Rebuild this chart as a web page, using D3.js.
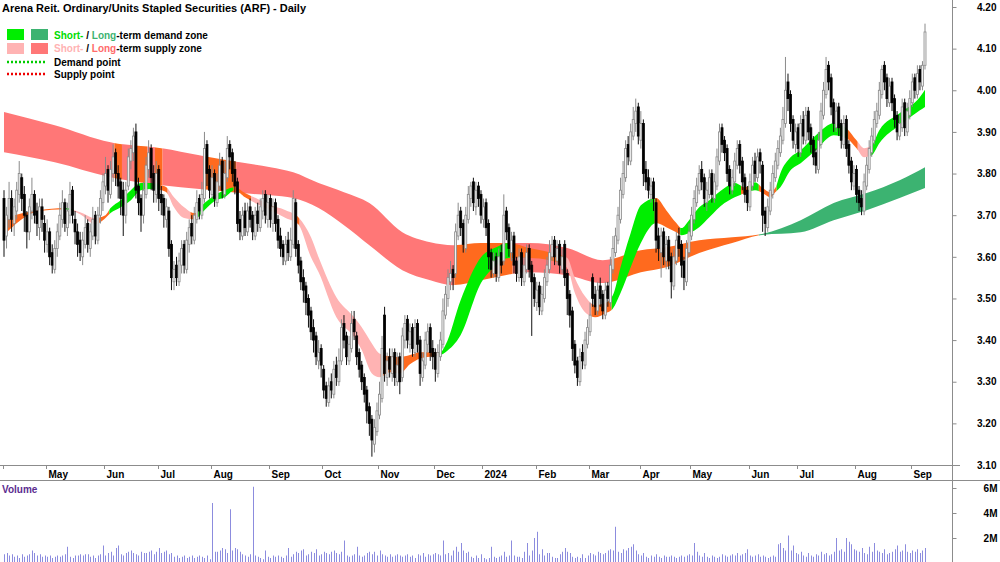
<!DOCTYPE html>
<html>
<head>
<meta charset="utf-8">
<script src="https://cdn.jsdelivr.net/npm/d3@7"></script>
<style>
body { margin: 0; background: #fff; }
svg { display: block; font-family: Arial, "Liberation Sans", sans-serif; font-weight: bold; }
</style>
</head>
<body>
<script>
// daily candles, index 0 = first trading day of Apr 2023
var opens = [3.74,3.65,3.69,3.74,3.68,3.71,3.75,3.79,3.75,3.70,
 3.66,3.71,3.75,3.71,3.67,3.72,3.68,3.63,3.66,3.61,
 3.57,3.62,3.65,3.69,3.73,3.67,3.70,3.76,3.69,3.66,
 3.64,3.60,3.63,3.68,3.62,3.65,3.70,3.64,3.70,3.73,
 3.77,3.81,3.75,3.80,3.85,3.80,3.78,3.76,3.70,3.77,
 3.83,3.85,3.90,3.77,3.74,3.70,3.75,3.81,3.86,3.80,
 3.75,3.81,3.75,3.74,3.69,3.71,3.63,3.54,3.58,3.54,
 3.58,3.63,3.57,3.63,3.68,3.64,3.69,3.74,3.70,3.74,
 3.87,3.81,3.75,3.80,3.73,3.77,3.83,3.75,3.79,3.87,
 3.85,3.81,3.78,3.69,3.65,3.71,3.66,3.72,3.70,3.65,
 3.71,3.67,3.71,3.75,3.69,3.74,3.68,3.73,3.69,3.65,
 3.63,3.59,3.64,3.60,3.63,3.73,3.63,3.59,3.55,3.53,
 3.50,3.47,3.43,3.41,3.35,3.38,3.33,3.29,3.25,3.30,
 3.27,3.34,3.30,3.35,3.44,3.41,3.35,3.38,3.45,3.41,
 3.37,3.34,3.31,3.28,3.24,3.21,3.15,3.18,3.22,3.26,
 3.46,3.31,3.36,3.32,3.37,3.30,3.36,3.31,3.40,3.45,
 3.39,3.43,3.37,3.44,3.40,3.31,3.34,3.39,3.43,3.38,
 3.37,3.32,3.36,3.39,3.46,3.50,3.54,3.57,3.56,3.65,
 3.71,3.68,3.62,3.69,3.74,3.78,3.72,3.77,3.75,3.69,
 3.73,3.68,3.61,3.56,3.60,3.55,3.61,3.59,3.71,3.67,
 3.61,3.65,3.59,3.55,3.61,3.54,3.57,3.62,3.58,3.55,
 3.49,3.53,3.47,3.50,3.54,3.57,3.60,3.64,3.59,3.63,
 3.57,3.63,3.56,3.51,3.47,3.39,3.35,3.30,3.37,3.34,
 3.39,3.42,3.55,3.51,3.47,3.53,3.51,3.46,3.53,3.49,
 3.57,3.61,3.64,3.69,3.75,3.79,3.87,3.83,3.89,3.92,
 3.96,3.88,3.92,3.81,3.79,3.75,3.78,3.73,3.65,3.61,
 3.66,3.59,3.64,3.60,3.53,3.59,3.65,3.63,3.59,3.54,
 3.61,3.65,3.69,3.73,3.76,3.81,3.79,3.73,3.75,3.80,
 3.74,3.77,3.83,3.91,3.88,3.86,3.81,3.76,3.78,3.82,
 3.87,3.83,3.79,3.76,3.72,3.77,3.83,3.79,3.85,3.82,
 3.71,3.67,3.71,3.75,3.79,3.82,3.85,3.88,3.92,4.02,
 3.99,3.93,3.87,3.91,3.85,3.93,3.88,3.95,3.91,3.88,
 3.85,3.81,3.87,3.94,3.99,4.06,4.03,3.97,3.91,3.96,
 3.92,3.87,3.93,3.87,3.83,3.77,3.81,3.76,3.74,3.71,
 3.77,3.81,3.85,3.88,3.92,3.94,3.99,4.06,4.03,3.97,
 4.02,3.98,3.94,3.89,3.91,3.97,3.90,3.94,3.97,4.03,
 3.99,4.05,4.01,4.06];

var highs = [3.76,3.72,3.78,3.76,3.74,3.78,3.83,3.80,3.77,3.71,
 3.74,3.79,3.76,3.73,3.74,3.74,3.70,3.69,3.67,3.63,
 3.64,3.68,3.73,3.76,3.74,3.73,3.78,3.77,3.71,3.68,
 3.66,3.66,3.70,3.69,3.68,3.72,3.71,3.72,3.76,3.80,
 3.84,3.82,3.83,3.87,3.86,3.82,3.79,3.78,3.78,3.86,
 3.88,3.91,3.92,3.79,3.75,3.78,3.84,3.88,3.87,3.82,
 3.83,3.82,3.77,3.75,3.74,3.72,3.64,3.59,3.60,3.61,
 3.64,3.64,3.66,3.69,3.70,3.72,3.76,3.75,3.78,3.90,
 3.88,3.82,3.82,3.81,3.80,3.85,3.84,3.83,3.89,3.88,
 3.86,3.83,3.79,3.71,3.72,3.73,3.73,3.74,3.71,3.72,
 3.73,3.74,3.76,3.76,3.75,3.75,3.74,3.74,3.70,3.67,
 3.64,3.65,3.66,3.67,3.76,3.74,3.64,3.60,3.57,3.54,
 3.51,3.48,3.45,3.42,3.40,3.39,3.34,3.30,3.31,3.32,
 3.35,3.36,3.38,3.45,3.46,3.42,3.41,3.47,3.47,3.42,
 3.38,3.35,3.32,3.29,3.25,3.22,3.21,3.25,3.30,3.41,
 3.48,3.37,3.38,3.38,3.38,3.37,3.37,3.43,3.46,3.46,
 3.44,3.44,3.45,3.45,3.41,3.37,3.42,3.44,3.44,3.40,
 3.38,3.39,3.42,3.50,3.53,3.57,3.59,3.58,3.68,3.73,
 3.72,3.69,3.72,3.77,3.78,3.79,3.78,3.78,3.76,3.74,
 3.74,3.69,3.62,3.61,3.61,3.62,3.63,3.75,3.72,3.68,
 3.66,3.66,3.60,3.62,3.62,3.60,3.63,3.63,3.59,3.56,
 3.54,3.54,3.53,3.57,3.60,3.64,3.65,3.65,3.64,3.64,
 3.62,3.64,3.57,3.52,3.48,3.40,3.36,3.38,3.39,3.42,
 3.45,3.49,3.56,3.53,3.54,3.55,3.52,3.54,3.54,3.60,
 3.65,3.67,3.72,3.79,3.83,3.88,3.89,3.92,3.96,3.98,
 3.97,3.95,3.93,3.83,3.81,3.79,3.79,3.74,3.67,3.67,
 3.67,3.65,3.65,3.61,3.62,3.66,3.67,3.64,3.60,3.64,
 3.68,3.72,3.76,3.79,3.82,3.83,3.80,3.78,3.81,3.81,
 3.80,3.86,3.92,3.92,3.89,3.87,3.82,3.81,3.85,3.88,
 3.88,3.84,3.80,3.77,3.80,3.84,3.85,3.86,3.86,3.83,
 3.72,3.74,3.78,3.82,3.85,3.88,3.91,3.96,4.08,4.04,
 4.00,3.94,3.92,3.92,3.94,3.95,3.96,3.96,3.92,3.89,
 3.86,3.90,3.97,4.02,4.08,4.07,4.04,3.98,3.97,3.97,
 3.93,3.94,3.94,3.88,3.84,3.82,3.82,3.77,3.76,3.80,
 3.84,3.88,3.91,3.95,3.97,4.02,4.06,4.07,4.04,4.03,
 4.03,3.99,3.95,3.94,3.98,3.98,3.97,4.00,4.04,4.04,
 4.06,4.06,4.07,4.16];

var lows = [3.60,3.62,3.67,3.66,3.65,3.69,3.73,3.71,3.66,3.62,
 3.64,3.69,3.68,3.65,3.64,3.66,3.61,3.61,3.58,3.56,
 3.56,3.60,3.64,3.67,3.66,3.65,3.68,3.68,3.63,3.60,
 3.59,3.58,3.62,3.61,3.60,3.64,3.63,3.63,3.68,3.71,
 3.75,3.73,3.74,3.78,3.77,3.74,3.70,3.65,3.68,3.76,
 3.81,3.83,3.74,3.70,3.66,3.68,3.74,3.79,3.76,3.73,
 3.73,3.71,3.70,3.67,3.67,3.60,3.52,3.52,3.53,3.53,
 3.56,3.56,3.56,3.61,3.63,3.63,3.68,3.69,3.69,3.73,
 3.77,3.74,3.74,3.72,3.72,3.76,3.74,3.74,3.78,3.81,
 3.78,3.75,3.66,3.64,3.64,3.65,3.65,3.67,3.64,3.64,
 3.66,3.66,3.69,3.68,3.67,3.67,3.66,3.66,3.62,3.60,
 3.58,3.58,3.59,3.59,3.62,3.60,3.56,3.52,3.49,3.46,
 3.43,3.40,3.37,3.34,3.33,3.31,3.26,3.24,3.24,3.26,
 3.26,3.29,3.29,3.34,3.38,3.34,3.34,3.37,3.40,3.34,
 3.31,3.28,3.25,3.20,3.17,3.12,3.13,3.17,3.21,3.25,
 3.30,3.29,3.31,3.30,3.29,3.29,3.27,3.30,3.38,3.38,
 3.37,3.36,3.36,3.37,3.29,3.30,3.33,3.37,3.35,3.33,
 3.30,3.31,3.35,3.38,3.45,3.48,3.52,3.52,3.55,3.64,
 3.65,3.61,3.61,3.68,3.72,3.71,3.70,3.72,3.68,3.67,
 3.65,3.57,3.55,3.55,3.54,3.54,3.56,3.58,3.64,3.60,
 3.59,3.56,3.54,3.54,3.53,3.53,3.56,3.55,3.41,3.48,
 3.47,3.46,3.46,3.49,3.53,3.56,3.59,3.58,3.58,3.56,
 3.56,3.53,3.46,3.43,3.35,3.32,3.29,3.29,3.33,3.33,
 3.38,3.41,3.48,3.46,3.46,3.48,3.45,3.45,3.48,3.48,
 3.56,3.60,3.63,3.68,3.74,3.78,3.82,3.82,3.88,3.90,
 3.87,3.86,3.77,3.76,3.74,3.73,3.71,3.61,3.59,3.55,
 3.58,3.57,3.57,3.50,3.52,3.58,3.60,3.55,3.52,3.53,
 3.60,3.64,3.68,3.72,3.75,3.76,3.72,3.71,3.74,3.73,
 3.73,3.76,3.82,3.85,3.83,3.78,3.75,3.75,3.77,3.81,
 3.80,3.76,3.73,3.71,3.71,3.76,3.78,3.78,3.80,3.66,
 3.65,3.66,3.70,3.74,3.78,3.81,3.84,3.87,3.91,3.95,
 3.90,3.86,3.85,3.84,3.84,3.87,3.87,3.88,3.85,3.82,
 3.80,3.80,3.86,3.93,3.98,4.00,3.94,3.90,3.90,3.89,
 3.86,3.86,3.84,3.80,3.76,3.76,3.73,3.71,3.70,3.70,
 3.76,3.80,3.84,3.87,3.91,3.93,3.98,4.00,3.96,3.96,
 3.95,3.91,3.88,3.88,3.90,3.89,3.89,3.93,3.96,3.98,
 3.98,4.00,4.00,4.05];

var closes = [3.64,3.70,3.74,3.69,3.72,3.76,3.80,3.74,3.70,3.66,
 3.72,3.75,3.70,3.68,3.72,3.69,3.64,3.66,3.60,3.58,
 3.62,3.66,3.70,3.73,3.68,3.71,3.75,3.70,3.66,3.63,
 3.61,3.64,3.67,3.63,3.66,3.69,3.65,3.70,3.74,3.78,
 3.80,3.76,3.81,3.84,3.80,3.77,3.74,3.70,3.76,3.84,
 3.86,3.89,3.76,3.73,3.70,3.76,3.82,3.85,3.79,3.76,
 3.80,3.74,3.73,3.70,3.72,3.62,3.55,3.57,3.55,3.59,
 3.62,3.58,3.64,3.67,3.65,3.70,3.73,3.71,3.75,3.86,
 3.80,3.76,3.79,3.74,3.78,3.82,3.76,3.80,3.86,3.84,
 3.80,3.77,3.68,3.66,3.70,3.67,3.71,3.69,3.66,3.70,
 3.68,3.72,3.74,3.70,3.73,3.69,3.72,3.68,3.64,3.62,
 3.60,3.63,3.61,3.64,3.74,3.62,3.58,3.54,3.52,3.49,
 3.46,3.42,3.40,3.36,3.37,3.34,3.28,3.26,3.29,3.28,
 3.33,3.31,3.35,3.43,3.40,3.36,3.39,3.44,3.42,3.36,
 3.33,3.30,3.27,3.23,3.20,3.16,3.19,3.23,3.27,3.38,
 3.32,3.35,3.33,3.36,3.31,3.34,3.30,3.41,3.44,3.40,
 3.42,3.38,3.43,3.39,3.32,3.35,3.40,3.42,3.37,3.36,
 3.33,3.37,3.40,3.47,3.51,3.55,3.56,3.55,3.66,3.70,
 3.67,3.63,3.70,3.75,3.77,3.73,3.76,3.74,3.70,3.72,
 3.67,3.60,3.57,3.59,3.56,3.60,3.58,3.70,3.66,3.62,
 3.64,3.58,3.56,3.60,3.55,3.58,3.61,3.57,3.54,3.50,
 3.52,3.48,3.51,3.55,3.58,3.61,3.63,3.60,3.62,3.58,
 3.60,3.55,3.50,3.46,3.38,3.34,3.31,3.36,3.35,3.40,
 3.43,3.46,3.50,3.48,3.52,3.50,3.47,3.52,3.50,3.58,
 3.62,3.65,3.70,3.76,3.80,3.86,3.84,3.90,3.93,3.95,
 3.89,3.92,3.80,3.78,3.76,3.77,3.74,3.64,3.62,3.65,
 3.60,3.63,3.59,3.54,3.60,3.64,3.62,3.58,3.55,3.62,
 3.66,3.70,3.74,3.77,3.80,3.78,3.74,3.76,3.79,3.75,
 3.78,3.84,3.90,3.87,3.85,3.80,3.77,3.79,3.83,3.86,
 3.82,3.78,3.75,3.73,3.78,3.82,3.80,3.84,3.83,3.70,
 3.68,3.72,3.76,3.80,3.83,3.86,3.89,3.93,4.00,3.98,
 3.92,3.88,3.90,3.86,3.92,3.89,3.94,3.90,3.87,3.84,
 3.82,3.88,3.95,4.00,4.05,4.02,3.96,3.92,3.95,3.91,
 3.88,3.92,3.86,3.82,3.78,3.80,3.75,3.73,3.72,3.78,
 3.82,3.86,3.89,3.93,3.95,4.00,4.05,4.02,3.98,4.01,
 3.97,3.93,3.90,3.92,3.96,3.91,3.95,3.98,4.02,4.00,
 4.04,4.02,4.06,4.14];

// volume in millions
var volumes = [0.7,0.8,0.6,0.7,0.5,0.6,0.4,0.7,0.5,0.6,0.7,1.0,0.8,0.6,0.7,0.5,0.6,
 0.5,0.6,0.4,0.5,0.6,0.5,0.6,0.7,1.3,0.5,0.4,0.6,0.6,0.7,0.6,0.7,0.7,0.5,0.6,0.4,0.6,0.7,1.4,
 0.6,0.8,0.9,0.6,1.2,1.4,0.7,0.6,0.8,0.9,1.0,0.8,0.7,0.6,0.9,0.8,0.8,0.9,1.0,0.7,0.9,
 1.2,0.8,0.9,1.0,0.7,0.8,0.5,0.6,0.4,0.5,0.6,0.4,0.5,0.6,0.4,0.5,0.6,0.5,0.4,0.6,0.3,
 4.8,0.9,0.9,1.0,1.2,1.1,0.8,4.3,1.0,1.2,1.1,0.9,0.7,0.6,0.5,0.7,6.1,0.6,0.5,0.4,0.3,1.0,0.5,
 0.4,0.6,0.5,0.6,0.5,0.4,0.6,1.2,0.5,0.7,0.9,0.8,1.0,1.1,0.6,0.7,0.9,0.8,1.1,0.6,0.7,
 0.9,0.8,0.7,0.9,1.0,0.8,0.7,0.9,1.8,0.6,0.5,0.6,0.7,1.3,0.6,0.5,0.6,0.8,0.9,0.7,0.9,0.6,
 1.0,0.7,0.6,0.5,0.7,0.5,0.6,0.7,0.6,0.5,0.6,0.7,0.5,0.6,0.4,0.7,0.6,0.8,0.5,0.7,0.6,0.7,
 0.8,0.7,0.6,1.8,0.7,0.8,0.6,1.0,1.3,0.9,1.6,1.0,0.8,0.9,0.5,0.4,0.6,0.4,0.7,
 0.4,0.3,0.4,1.3,0.5,0.4,0.5,0.6,0.9,0.5,0.6,1.8,0.6,0.5,0.5,0.4,0.9,1.6,0.6,1.0,2.0,2.5,
 0.7,1.1,0.6,0.8,0.8,0.5,0.4,0.4,0.7,0.9,1.2,0.9,0.8,0.5,0.4,0.5,0.4,0.7,0.4,0.6,
 0.8,0.7,0.6,0.9,0.8,0.7,0.8,1.0,1.1,1.0,2.9,0.9,0.8,1.1,1.0,1.2,1.3,1.5,1.0,0.7,
 0.6,0.8,0.5,0.4,0.6,0.5,0.7,0.5,0.4,0.6,0.5,0.5,0.6,0.5,0.4,0.5,0.6,0.5,0.6,0.7,
 0.6,1.6,0.9,0.6,0.5,0.8,0.5,0.4,0.6,0.5,0.4,0.5,0.7,0.6,0.5,0.6,0.7,0.6,0.8,0.6,
 0.7,0.8,1.1,0.6,0.5,0.6,0.7,0.5,0.6,0.5,0.4,0.5,0.6,0.5,1.5,1.6,1.2,1.0,2.2,1.0,1.4,0.8,
 0.7,0.9,0.6,0.5,0.8,0.6,0.5,0.7,0.6,0.9,0.7,0.8,0.6,0.7,0.9,2.0,1.0,1.1,0.9,2.0,1.7,1.5,1.1,
 1.0,0.9,1.2,0.8,0.7,1.3,0.9,1.6,1.0,0.9,0.8,1.1,0.7,0.8,0.9,1.1,1.4,0.9,1.0,1.5,0.9,0.8,1.0,0.9,1.1,0.8,1.0,1.2];

// long-term zone (knots: day index, upper, lower)
var ltIdx = [0,20,42,62,77,93,105,114,124,134,144,157,168,177,188,207,222,236,251,261,274,287,298,314,327,340,353,363];
var ltHi  = [3.948,3.916,3.875,3.861,3.844,3.827,3.815,3.803,3.777,3.755,3.729,3.659,3.635,3.628,3.633,3.633,3.621,3.592,3.616,3.623,3.640,3.647,3.654,3.688,3.729,3.753,3.784,3.815];
var ltLo  = [3.851,3.827,3.791,3.772,3.763,3.753,3.748,3.741,3.717,3.676,3.628,3.568,3.544,3.532,3.544,3.563,3.556,3.537,3.563,3.575,3.609,3.633,3.652,3.659,3.688,3.712,3.741,3.765];
var ltSegStart = [0,44,47,52,57,60,63,79,92,178,201,240,298];
var ltSegZone  = ["supply","mixed","supply","mixed","supply","mixed","supply","mixed","supply","mixed","supply","mixed","demand"];

// short-term zone
var stIdx = [0,9,14,24,30,36,40,42,46,50,54,58,62,64,67,71,75,79,83,87,91,95,100,105,111,116,121,124,131,138,141,145,148,152,156,160,164,172,174,180,188,194,199,207,215,222,225,229,233,237,240,243,247,251,257,261,265,267,270,274,278,284,288,292,296,299,302,304,306,310,314,320,327,332,336,339,342,345,353,361,363];
var stHi = [3.693,3.707,3.712,3.717,3.707,3.693,3.700,3.717,3.736,3.760,3.777,3.777,3.772,3.767,3.743,3.719,3.705,3.729,3.748,3.760,3.767,3.753,3.739,3.724,3.712,3.695,3.647,3.599,3.503,3.455,3.431,3.392,3.368,3.361,3.359,3.364,3.371,3.371,3.388,3.496,3.599,3.623,3.633,3.621,3.611,3.597,3.549,3.505,3.484,3.489,3.508,3.575,3.657,3.724,3.741,3.712,3.681,3.669,3.688,3.719,3.736,3.765,3.777,3.767,3.779,3.765,3.755,3.765,3.801,3.839,3.856,3.892,3.921,3.909,3.880,3.861,3.868,3.904,3.945,3.984,4.001];
var stLo = [3.652,3.698,3.710,3.714,3.702,3.678,3.693,3.705,3.719,3.736,3.760,3.763,3.760,3.755,3.719,3.693,3.690,3.712,3.734,3.743,3.760,3.743,3.726,3.712,3.693,3.678,3.599,3.563,3.455,3.407,3.376,3.320,3.311,3.323,3.320,3.342,3.356,3.364,3.371,3.412,3.537,3.580,3.597,3.597,3.592,3.573,3.513,3.467,3.455,3.464,3.476,3.513,3.575,3.633,3.681,3.671,3.659,3.652,3.657,3.671,3.695,3.729,3.743,3.753,3.760,3.753,3.743,3.755,3.767,3.808,3.825,3.856,3.892,3.885,3.861,3.839,3.844,3.873,3.916,3.952,3.960];
var stSegStart = [0,24,28,38,42,62,65,74,77,91,98,103,108,116,117,149,172,200,222,232,240,257,267,291,294,298,305,333,337,342];
var stSegZone  = ["mixed","demand","supply","mixed","demand","mixed","supply","mixed","demand","mixed","supply","mixed","supply","mixed","supply","mixed","demand","mixed","supply","mixed","demand","mixed","demand","mixed","demand","mixed","demand","mixed","supply","demand"];

var priceTicks = [3.10,3.20,3.30,3.40,3.50,3.60,3.70,3.80,3.90,4.00,4.10,4.20];
var volTicks = [2,4,6];
var monthIdx = [0,17,40,61,82,105,126,148,170,189,210,231,251,271,294,313,336,358];
var monthLbl = ["","May","Jun","Jul","Aug","Sep","Oct","Nov","Dec","2024","Feb","Mar","Apr","May","Jun","Jul","Aug","Sep"];

var ltColor = {supply: "#ff7777", mixed: "#ff6a1e", demand: "#3cb371"};
var stColor = {supply: "#ffb3b3", mixed: "#ff6a1e", demand: "#00ee00"};

var W = 1000, H = 562, axisX = 952, priceBottom = 465;

var svg = d3.select("body").append("svg")
    .attr("width", W)
    .attr("height", H);

var xScale = d3.scaleLinear().domain([0, 363]).range([4, 925]);
var yScale = d3.scaleLinear().domain([3.10, 4.20]).range([priceBottom, 7]);
var vScale = d3.scaleLinear().domain([0, 6]).range([563, 488]);

var defs = svg.append("defs");
defs.append("clipPath").attr("id", "plot")
  .append("rect").attr("x", 0).attr("y", 0).attr("width", axisX).attr("height", priceBottom);

var plot = svg.append("g").attr("clip-path", "url(#plot)");

function drawZone(idx, hi, lo, segStart, segZone, colors, name) {
    var pts = idx.map(function (d, k) { return {i: d, hi: hi[k], lo: lo[k]}; });
    var area = d3.area()
        .x(function (d) { return xScale(d.i); })
        .y0(function (d) { return yScale(d.lo); })
        .y1(function (d) { return yScale(d.hi); })
        .curve(d3.curveMonotoneX);
    var pathD = area(pts);
    segStart.forEach(function (s, k) {
        var e = k < segStart.length - 1 ? segStart[k + 1] : closes.length;
        var id = name + k;
        var x0 = xScale(s - 0.5), x1 = xScale(e - 0.5);
        defs.append("clipPath").attr("id", id)
          .append("rect").attr("x", x0).attr("y", 0).attr("width", x1 - x0).attr("height", priceBottom);
        plot.append("path")
            .attr("d", pathD)
            .attr("fill", colors[segZone[k]])
            .attr("clip-path", "url(#" + id + ")");
    });
}

drawZone(ltIdx, ltHi, ltLo, ltSegStart, ltSegZone, ltColor, "lt");
drawZone(stIdx, stHi, stLo, stSegStart, stSegZone, stColor, "st");

// candles
var candles = closes.map(function (c, i) {
    return {i: i, o: opens[i], h: highs[i], l: lows[i], c: c, up: c >= opens[i]};
});

plot.selectAll("line.wick")
    .data(candles)
    .enter()
    .append("line")
        .attr("class", "wick")
        .attr("x1", function (d) { return xScale(d.i); })
        .attr("x2", function (d) { return xScale(d.i); })
        .attr("y1", function (d) { return yScale(d.h); })
        .attr("y2", function (d) { return yScale(d.l); })
        .attr("stroke", function (d) { return d.up ? "#8a8a8a" : "#111"; })
        .attr("stroke-width", 1);

plot.selectAll("rect.body")
    .data(candles)
    .enter()
    .append("rect")
        .attr("class", "body")
        .attr("x", function (d) { return xScale(d.i) - 1; })
        .attr("width", 2)
        .attr("y", function (d) { return yScale(Math.max(d.o, d.c)); })
        .attr("height", function (d) { return Math.max(1, Math.abs(yScale(d.o) - yScale(d.c))); })
        .attr("fill", function (d) { return d.up ? "#f2f2f2" : "#000"; })
        .attr("stroke", function (d) { return d.up ? "#8a8a8a" : "#000"; })
        .attr("stroke-width", 0.8);

// volume
svg.append("g").selectAll("line")
    .data(volumes)
    .enter()
    .append("line")
        .attr("x1", function (d, i) { return Math.round(xScale(i)) + 0.5; })
        .attr("x2", function (d, i) { return Math.round(xScale(i)) + 0.5; })
        .attr("y1", vScale(0))
        .attr("y2", function (d) { return vScale(d); })
        .attr("stroke", "#8c8cde")
        .attr("stroke-width", 1);

// frame lines
var lineCol = "#8c8c8c";
svg.append("line").attr("x1", 0).attr("x2", axisX + 8).attr("y1", priceBottom + 0.5).attr("y2", priceBottom + 0.5).attr("stroke", lineCol);
svg.append("line").attr("x1", 0).attr("x2", W).attr("y1", 480.5).attr("y2", 480.5).attr("stroke", lineCol);
svg.append("line").attr("x1", axisX + 0.5).attr("x2", axisX + 0.5).attr("y1", 0).attr("y2", H).attr("stroke", lineCol);

// price axis
var pAxis = svg.append("g")
    .attr("transform", "translate(" + (axisX + 0.5) + ",0)")
    .call(d3.axisRight(yScale).tickValues(priceTicks).tickSize(4).tickFormat(d3.format(".2f")));
pAxis.select(".domain").remove();
pAxis.selectAll("line").attr("stroke", lineCol);
pAxis.selectAll("text")
    .attr("x", 44).attr("text-anchor", "end")
    .attr("font-size", 10).attr("font-weight", "bold").attr("fill", "#000")
    .attr("font-family", "Arial, 'Liberation Sans', sans-serif");

// volume axis
var vAxis = svg.append("g")
    .attr("transform", "translate(" + (axisX + 0.5) + ",0)")
    .call(d3.axisRight(vScale).tickValues(volTicks).tickSize(4).tickFormat(function (d) { return d + "M"; }));
vAxis.select(".domain").remove();
vAxis.selectAll("line").attr("stroke", lineCol);
vAxis.selectAll("text")
    .attr("x", 45).attr("text-anchor", "end")
    .attr("font-size", 10).attr("font-weight", "bold").attr("fill", "#000")
    .attr("font-family", "Arial, 'Liberation Sans', sans-serif");

// month axis
var months = svg.append("g");
monthIdx.forEach(function (m, k) {
    var tx = Math.round(xScale(m - 0.5)) + 0.5;
    months.append("line").attr("x1", tx).attr("x2", tx).attr("y1", priceBottom).attr("y2", priceBottom + 4).attr("stroke", lineCol);
    months.append("text").attr("x", tx + 2).attr("y", 478).attr("font-size", 10).text(monthLbl[k]);
});

// title + legend
svg.append("text").attr("x", 2).attr("y", 12).attr("font-size", 11)
    .attr("textLength", 304).attr("lengthAdjust", "spacingAndGlyphs")
    .text("Arena Reit. Ordinary/Units Stapled Securities (ARF) - Daily");

svg.append("rect").attr("x", 7).attr("y", 29).attr("width", 17).attr("height", 11).attr("fill", stColor.demand);
svg.append("rect").attr("x", 31).attr("y", 29).attr("width", 17).attr("height", 11).attr("fill", ltColor.demand);
svg.append("rect").attr("x", 7).attr("y", 43).attr("width", 17).attr("height", 11).attr("fill", stColor.supply);
svg.append("rect").attr("x", 31).attr("y", 43).attr("width", 17).attr("height", 11).attr("fill", ltColor.supply);

var l1 = svg.append("text").attr("x", 54).attr("y", 39).attr("font-size", 10);
l1.append("tspan").attr("fill", "#00dd00").text("Short-");
l1.append("tspan").text(" / ");
l1.append("tspan").attr("fill", ltColor.demand).text("Long");
l1.append("tspan").text("-term demand zone");

var l2 = svg.append("text").attr("x", 54).attr("y", 52).attr("font-size", 10);
l2.append("tspan").attr("fill", stColor.supply).text("Short-");
l2.append("tspan").text(" / ");
l2.append("tspan").attr("fill", "#ff6b6b").text("Long");
l2.append("tspan").text("-term supply zone");

svg.append("line").attr("x1", 7).attr("x2", 46).attr("y1", 62).attr("y2", 62)
    .attr("stroke", "#00cc00").attr("stroke-width", 2.5).attr("stroke-dasharray", "2,2");
svg.append("text").attr("x", 54).attr("y", 66).attr("font-size", 10).text("Demand point");
svg.append("line").attr("x1", 7).attr("x2", 46).attr("y1", 74).attr("y2", 74)
    .attr("stroke", "#ee0000").attr("stroke-width", 2.5).attr("stroke-dasharray", "2,2");
svg.append("text").attr("x", 54).attr("y", 78).attr("font-size", 10).text("Supply point");

svg.append("text").attr("x", 2).attr("y", 493).attr("font-size", 10).attr("fill", "#5b2c8f").text("Volume");
</script>
</body>
</html>
